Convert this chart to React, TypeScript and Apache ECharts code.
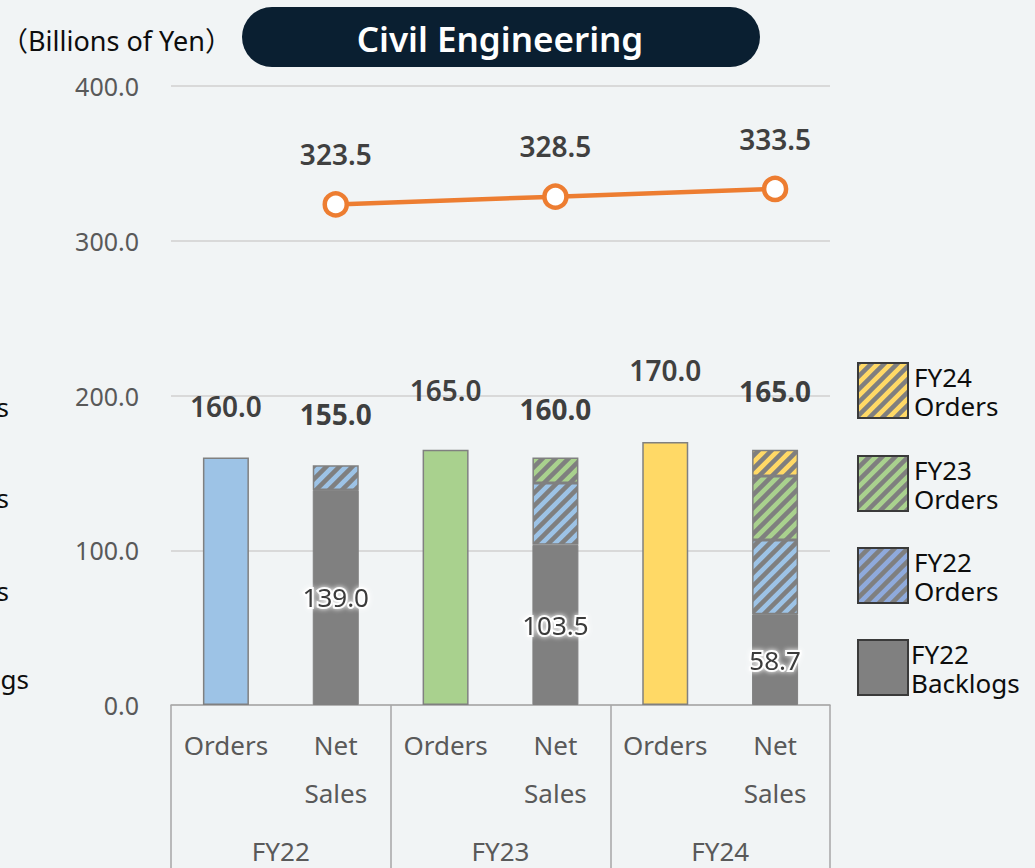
import React, { useEffect, useRef } from 'react';
import * as echarts from 'echarts';

// ---------- data ----------
const FISCAL_YEARS = ['FY22', 'FY23', 'FY24'];
const BAR_KINDS = ['Orders', 'Net\nSales'];
const ORDERS = [160.0, 165.0, 170.0];
const NET_SALES = [155.0, 160.0, 165.0];
const FY22_BACKLOG_PART = [139.0, 103.5, 58.7];
const FY22_ORDERS_PART = [16.0, 40.0, 48.0];
const FY23_ORDERS_PART: (number | null)[] = [null, 16.5, 41.3];
const FY24_ORDERS_PART: (number | null)[] = [null, null, 17.0];
const LINE_VALUES = [323.5, 328.5, 333.5];
const LEGEND_LABELS = ['FY24\nOrders', 'FY23\nOrders', 'FY22\nOrders', 'FY22\nBacklogs'];
const UNIT_TEXT = '（Billions of Yen）';
const TITLE_TEXT = 'Civil Engineering';

// ---------- styles ----------
const FONT = "'Noto Sans', 'Noto Sans CJK JP', sans-serif";
const BLUE = '#9DC3E6';
const GREEN = '#A9D18E';
const YELLOW = '#FFD966';
const GRAY = '#808080';
const ORDER_COLORS = [BLUE, GREEN, YELLOW];
const ORDER_LABEL_DIST = [36, 45, 57];
const NET_LABEL_DIST = [36, 33, 44];

function hatch(bg: string, size = 13, w = 4.5) {
  const c = document.createElement('canvas');
  c.width = size;
  c.height = size;
  const ctx = c.getContext('2d')!;
  ctx.fillStyle = bg;
  ctx.fillRect(0, 0, size, size);
  ctx.strokeStyle = '#7F7F7F';
  ctx.lineWidth = w;
  ctx.lineCap = 'square';
  ctx.beginPath();
  ctx.moveTo(0, size);
  ctx.lineTo(size, 0);
  ctx.moveTo(-3, 3);
  ctx.lineTo(3, -3);
  ctx.moveTo(size - 3, size + 3);
  ctx.lineTo(size + 3, size - 3);
  ctx.stroke();
  return { image: c, repeat: 'repeat', imageWidth: size, imageHeight: size } as any;
}

const atOrders = (arr: (number | null)[]) => {
  const out: any[] = [];
  arr.forEach((v) => {
    out.push(v == null ? '-' : v);
    out.push('-');
  });
  return out;
};
const atNet = (arr: (number | null)[]) => {
  const out: any[] = [];
  arr.forEach((v) => {
    out.push('-');
    out.push(v == null ? '-' : v);
  });
  return out;
};

export default function App() {
  const ref = useRef<HTMLDivElement>(null);
  useEffect(() => {
    if (!ref.current) return;
    const chart = echarts.init(ref.current, null, { renderer: 'svg' });
    const hatchBlue = hatch(BLUE);
    const hatchGreen = hatch(GREEN);
    const hatchYellow = hatch(YELLOW);
    const legendFills = [hatch(YELLOW), hatch(GREEN), hatch('#8FAADC'), GRAY];

    const categories: string[] = [];
    FISCAL_YEARS.forEach(() => BAR_KINDS.forEach((k) => categories.push(k)));

    const barBase = {
      type: 'bar',
      stack: 'a',
      barWidth: 46,
      xAxisIndex: 0,
      yAxisIndex: 0,
    };

    const ordersData = atOrders(ORDERS).map((v, i) =>
      v === '-'
        ? '-'
        : {
            value: v,
            itemStyle: { color: ORDER_COLORS[i / 2] },
            label: { distance: ORDER_LABEL_DIST[i / 2] },
          }
    );

    const netLabelData = atNet(NET_SALES).map((v, i) =>
      v === '-' ? '-' : { value: v, label: { distance: NET_LABEL_DIST[(i - 1) / 2] } }
    );

    const legendGraphics: any[] = [];
    const legendBoxY = [363, 456, 548, 640];
    LEGEND_LABELS.forEach((lab, i) => {
      legendGraphics.push({
        type: 'rect',
        shape: { x: 858, y: legendBoxY[i], width: 50, height: 55 },
        style: { fill: legendFills[i], stroke: '#3A3A3A', lineWidth: 2 },
      });
      legendGraphics.push({
        type: 'text',
        x: i === 3 ? 911 : 914,
        y: legendBoxY[i] + 28,
        style: {
          text: lab,
          font: `26px ${FONT}`,
          fill: '#0D0D0D',
          lineHeight: 29,
          verticalAlign: 'middle',
          align: 'left',
        },
      });
    });

    const option: any = {
      animation: false,
      backgroundColor: '#F1F4F5',
      textStyle: { fontFamily: FONT },
      grid: [
        { left: 171, right: 205, top: 86, bottom: 163, containLabel: false },
        { left: 171, right: 205, top: 86, bottom: 163, containLabel: false },
      ],
      xAxis: [
        {
          type: 'category',
          gridIndex: 0,
          data: categories,
          axisLine: { lineStyle: { color: '#A6A6A6', width: 1.5 } },
          axisTick: { show: false },
          axisLabel: {
            fontSize: 26,
            color: '#595959',
            lineHeight: 48,
            margin: 16,
            fontFamily: FONT,
            interval: 0,
          },
        },
        {
          type: 'category',
          gridIndex: 1,
          data: FISCAL_YEARS,
          position: 'bottom',
          axisLine: { show: false },
          axisTick: { show: true, length: 165, lineStyle: { color: '#A6A6A6', width: 1.5 } },
          axisLabel: { fontSize: 26, color: '#595959', margin: 131, lineHeight: 30, fontFamily: FONT },
        },
      ],
      yAxis: [
        {
          type: 'value',
          gridIndex: 0,
          min: 0,
          max: 400,
          interval: 100,
          axisLine: { show: false },
          axisTick: { show: false },
          splitLine: { lineStyle: { color: '#D9D9D9', width: 2 } },
          axisLabel: {
            fontSize: 25,
            color: '#595959',
            margin: 32,
            fontFamily: FONT,
            formatter: (v: number) => v.toFixed(1),
          },
        },
        {
          type: 'value',
          gridIndex: 1,
          min: 0,
          max: 400,
          show: false,
        },
      ],
      series: [
        {
          ...barBase,
          name: 'Orders',
          data: ordersData,
          itemStyle: { borderColor: GRAY, borderWidth: 1.5 },
          label: {
            show: true,
            position: 'top',
            fontSize: 28,
            fontWeight: 600,
            color: '#404040',
            lineHeight: 30,
            fontFamily: FONT,
            formatter: (p: any) => Number(p.value).toFixed(1),
          },
        },
        {
          ...barBase,
          name: 'FY22 Backlogs',
          data: atNet(FY22_BACKLOG_PART),
          itemStyle: { color: GRAY, borderColor: GRAY, borderWidth: 1 },
          label: {
            show: true,
            position: 'inside',
            fontSize: 26,
            color: '#3A3A3A',
            fontFamily: FONT,
            textBorderColor: 'rgba(255,255,255,0.95)',
            textBorderWidth: 4,
            textShadowColor: '#FFFFFF',
            textShadowBlur: 5,
            formatter: (p: any) => Number(p.value).toFixed(1),
          },
        },
        {
          ...barBase,
          name: 'FY22 Orders',
          data: atNet(FY22_ORDERS_PART),
          itemStyle: { color: hatchBlue, borderColor: GRAY, borderWidth: 1.5 },
        },
        {
          ...barBase,
          name: 'FY23 Orders',
          data: atNet(FY23_ORDERS_PART),
          itemStyle: { color: hatchGreen, borderColor: GRAY, borderWidth: 1.5 },
        },
        {
          ...barBase,
          name: 'FY24 Orders',
          data: atNet(FY24_ORDERS_PART),
          itemStyle: { color: hatchYellow, borderColor: GRAY, borderWidth: 1.5 },
        },
        {
          type: 'scatter',
          name: 'Net Sales',
          xAxisIndex: 0,
          yAxisIndex: 0,
          symbolSize: 0,
          data: netLabelData,
          silent: true,
          z: 5,
          label: {
            show: true,
            position: 'top',
            fontSize: 28,
            fontWeight: 700,
            color: '#0D0D0D',
            lineHeight: 30,
            fontFamily: FONT,
            formatter: (p: any) => Number(p.value).toFixed(1),
          },
        },
        {
          type: 'line',
          name: 'Cumulative',
          xAxisIndex: 0,
          yAxisIndex: 0,
          data: atNet(LINE_VALUES),
          connectNulls: true,
          symbol: 'circle',
          symbolSize: 22,
          z: 6,
          lineStyle: { color: '#ED7D31', width: 4.5 },
          itemStyle: { color: '#FFFFFF', borderColor: '#ED7D31', borderWidth: 4.5 },
          label: {
            show: true,
            position: 'top',
            distance: 22,
            fontSize: 28,
            fontWeight: 600,
            color: '#404040',
            lineHeight: 30,
            fontFamily: FONT,
            formatter: (p: any) => Number(p.value).toFixed(1),
          },
        },
      ],
      graphic: [
        {
          type: 'rect',
          shape: { x: 242, y: 7, width: 518, height: 60, r: 30 },
          style: { fill: '#0A1F31' },
        },
        {
          type: 'text',
          x: 500,
          y: 38,
          style: {
            text: TITLE_TEXT,
            font: `600 35px ${FONT}`,
            fill: '#FFFFFF',
            align: 'center',
            verticalAlign: 'middle',
          },
        },
        {
          type: 'text',
          x: 1,
          y: 40,
          style: {
            text: UNIT_TEXT,
            font: `27px ${FONT}`,
            fill: '#0D0D0D',
            align: 'left',
            verticalAlign: 'middle',
          },
        },
        // cut-off remnants of the neighbouring panel at the left edge
        { type: 'text', x: 5, y: 245, style: { text: '）', font: `27px ${FONT}`, fill: '#0D0D0D', align: 'right', verticalAlign: 'middle' } },
        { type: 'text', x: 9, y: 407, style: { text: 'Orders', font: `26px ${FONT}`, fill: '#0D0D0D', align: 'right', verticalAlign: 'middle' } },
        { type: 'text', x: 9, y: 498, style: { text: 'Orders', font: `26px ${FONT}`, fill: '#0D0D0D', align: 'right', verticalAlign: 'middle' } },
        { type: 'text', x: 9, y: 591, style: { text: 'Orders', font: `26px ${FONT}`, fill: '#0D0D0D', align: 'right', verticalAlign: 'middle' } },
        { type: 'text', x: 29, y: 679, style: { text: 'Backlogs', font: `26px ${FONT}`, fill: '#0D0D0D', align: 'right', verticalAlign: 'middle' } },
        ...legendGraphics,
      ],
    };
    chart.setOption(option);
    return () => chart.dispose();
  }, []);

  return (
    <div
      ref={ref}
      style={{ position: 'absolute', left: 0, top: 0, width: 1035, height: 868 }}
    />
  );
}
